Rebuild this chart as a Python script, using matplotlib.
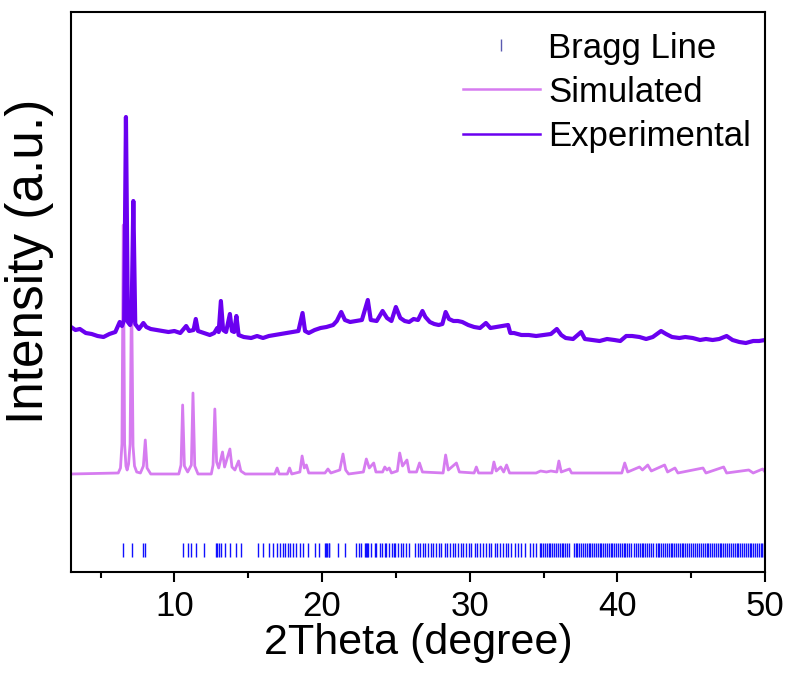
import matplotlib
matplotlib.use('Agg')
import matplotlib.pyplot as plt
from matplotlib.lines import Line2D

plt.rcParams['font.family'] = ['Liberation Sans', 'DejaVu Sans']

# simulated pattern, intensity above its own baseline
sim_2theta = [3.0, 6.2, 6.35, 6.45, 6.54, 6.63, 6.72, 6.8, 6.9, 7.0, 7.1, 7.2, 7.3, 7.45,
              7.7, 7.9, 8.03, 8.15, 8.4,
              10.3, 10.45, 10.56, 10.68, 10.9, 11.15, 11.26, 11.38, 11.6, 12.5, 12.62, 12.74,
              12.86, 13.0, 13.26, 13.4, 13.76, 13.9, 14.1, 14.35, 14.5, 14.8, 16.8, 16.96, 17.1,
              17.65, 17.8, 17.95, 18.5, 18.65, 18.8, 18.94, 19.1, 20.2, 20.4, 20.6, 21.2, 21.42,
              21.6, 21.8, 22.8, 23.0, 23.2, 23.5, 23.65, 24.1, 24.25, 24.4, 24.55, 24.7, 25.1,
              25.26, 25.45, 25.75, 25.9, 26.4, 26.6, 26.8, 28.2, 28.37, 28.55, 29.1, 29.3, 30.3,
              30.45, 30.6, 31.5, 31.64, 31.8, 32.1, 32.3, 32.5, 32.7, 34.5, 34.8, 35.2, 35.5,
              35.9, 36.04, 36.2, 36.76, 36.9, 40.3, 40.5, 40.7, 41.5, 41.7, 42.06, 42.3, 43.2,
              43.4, 43.9, 44.1, 45.8, 46.0, 47.2, 47.4, 48.9, 49.2, 49.84, 50.0]
sim_int = [0, 1, 6, 30, 249, 30, 8, 4, 10, 30, 188, 28, 8, 2,
           1, 8, 34, 6, 0,
           0, 9, 69, 8, 2, 9, 81, 8, 0, 0, 9, 65,
           12, 6, 22, 7, 25, 7, 4, 13, 3, 0, 0, 6, 0,
           0, 6, 0, 2, 18, 6, 9, 1, 1, 5, 1, 4, 20,
           4, 0, 2, 15, 6, 11, 2, 2, 7, 4, 6, 1, 3,
           21, 8, 14, 2, 2, 11, 2, 1, 19, 4, 11, 2, 1,
           7, 1, 1, 12, 3, 7, 2, 9, 1, 1, 3, 2, 3,
           2, 13, 2, 5, 1, 1, 11, 2, 7, 4, 9, 3, 9,
           2, 6, 1, 6, 1, 7, 1, 4, 1, 5, 2]

# experimental pattern
exp_2theta = [3.0, 3.3, 3.6, 4.0, 4.4, 4.8, 5.2, 5.6, 6.0, 6.3, 6.45, 6.6, 6.72, 6.85, 7.0,
              7.1, 7.22, 7.35, 7.6, 7.9, 8.1, 8.4, 8.8, 9.2, 9.6, 10.0, 10.4, 10.8, 11.0,
              11.3, 11.45, 11.6, 12.0, 12.4, 12.7, 12.9, 13.0, 13.15, 13.3, 13.5, 13.76, 13.9,
              14.05, 14.2, 14.35, 14.7, 15.2, 15.6, 16.0, 16.4, 16.8, 17.2, 17.6, 18.0, 18.4,
              18.68, 18.85, 19.1, 19.5, 19.9, 20.3, 20.75, 21.0, 21.3, 21.55, 21.9, 22.3, 22.7,
              23.1, 23.3, 23.7, 24.1, 24.4, 24.7, 25.0, 25.3, 25.6, 25.9, 26.2, 26.5, 26.8,
              27.0, 27.3, 27.6, 27.9, 28.15, 28.37, 28.6, 28.9, 29.2, 29.5, 29.9, 30.3, 30.7,
              31.1, 31.4, 31.8, 32.2, 32.6, 32.75, 33.0, 33.5, 34.0, 34.5, 35.0, 35.5, 35.9,
              36.2, 36.5, 37.0, 37.55, 37.8, 38.3, 38.8, 39.3, 39.8, 40.2, 40.6, 41.0, 41.5,
              41.95, 42.4, 42.96, 43.3, 43.7, 44.2, 44.6, 45.1, 45.6, 46.0, 46.45, 46.9, 47.4,
              47.8, 48.26, 48.7, 49.2, 49.6, 50.0]
exp_int = [18, 15, 16, 12, 11, 9, 8, 11, 13, 23, 19, 25, 228, 23, 20,
           25, 144, 21, 16, 22, 18, 16, 15, 14, 13, 14, 12, 19, 14,
           15, 26, 14, 12, 10, 12, 17, 13, 44, 15, 13, 31, 14,
           13, 29, 10, 8, 7, 9, 7, 9, 10, 11, 12, 13, 14,
           32, 14, 12, 15, 17, 18, 20, 24, 33, 25, 23, 24, 25,
           45, 25, 24, 34, 27, 24, 38, 27, 24, 23, 26, 25, 34,
           28, 23, 21, 20, 21, 33, 26, 24, 24, 23, 20, 18, 17,
           22, 17, 18, 19, 20, 12, 12, 10, 10, 9, 10, 11, 16,
           10, 7, 6, 13, 6, 5, 4, 6, 5, 4, 9, 9, 8,
           6, 8, 14, 11, 8, 7, 8, 7, 5, 6, 5, 6, 9,
           5, 3, 2, 4, 4, 5]

# Bragg reflection positions
bragg_2theta = [6.54, 7.15, 7.85, 8.01, 10.60, 10.94, 11.10, 11.46, 12.02, 12.79, 12.90, 13.02,
                13.13, 13.42, 13.76, 14.14, 14.50, 15.67, 16.01, 16.40, 16.69, 16.92, 17.14,
                17.37, 17.48, 17.70, 17.82, 18.04, 18.27, 18.49, 18.72, 19.06, 19.51, 19.78,
                20.23, 20.30, 20.37, 20.44, 20.50, 21.09, 21.54, 22.33, 22.49, 22.67, 22.89,
                23.00, 23.06, 23.12, 23.34, 23.57, 23.68, 23.91, 24.07, 24.25, 24.36, 24.52,
                24.74, 24.88, 24.97, 25.15, 25.37, 25.49, 25.71, 25.87, 26.32, 26.50, 26.61,
                26.84, 27.00, 27.17, 27.36, 27.52, 27.74, 27.90, 28.08, 28.30, 28.49, 28.64,
                28.87, 29.03, 29.21, 29.39, 29.55, 29.77, 29.93, 30.11, 30.33, 30.52, 30.67,
                30.90, 31.12, 31.28, 31.46, 31.69, 31.87, 32.03, 32.25, 32.48, 32.59, 32.82,
                33.04, 33.27, 33.50, 33.72, 34.06, 34.28, 34.51, 34.73, 34.85, 34.96, 35.10,
                35.22, 35.35, 35.47, 35.60, 35.72, 35.85, 35.97, 36.10, 36.22, 36.35, 36.47,
                36.60, 36.72, 37.05, 37.17, 37.30, 37.42, 37.55, 37.67, 37.80, 37.92, 38.05,
                38.17, 38.30, 38.42, 38.55, 38.67, 38.80, 38.92, 39.05, 39.17, 39.30, 39.42,
                39.55, 39.67, 39.80, 39.92, 40.05, 40.17, 40.30, 40.42, 40.55, 40.67, 40.80,
                40.92, 41.15, 41.27, 41.40, 41.52, 41.65, 41.77, 41.90, 42.02, 42.15, 42.27,
                42.40, 42.60, 42.72, 42.85, 42.97, 43.10, 43.22, 43.35, 43.47, 43.60, 43.72,
                43.85, 43.97, 44.10, 44.22, 44.35, 44.47, 44.55, 44.75, 44.87, 45.00, 45.12,
                45.25, 45.42, 45.55, 45.67, 45.80, 45.92, 46.05, 46.17, 46.30, 46.42, 46.55,
                46.67, 46.80, 46.92, 47.05, 47.17, 47.30, 47.45, 47.57, 47.70, 47.82, 47.95,
                48.07, 48.20, 48.32, 48.45, 48.57, 48.70, 48.82, 48.95, 49.07, 49.20, 49.32,
                49.45, 49.57, 49.70, 49.82, 49.95]

sim_offset = 98
exp_offset = 227
bragg_lo, bragg_hi = 15, 29

sim_color = '#d67cf0'
exp_color = '#6a00f0'
bragg_color = '#1010ff'

fig = plt.figure(figsize=(7.89, 6.79), dpi=100)
ax = fig.add_axes([0.09, 0.1576, 0.8796, 0.8247])

ax.vlines(bragg_2theta, bragg_lo, bragg_hi, color=bragg_color, lw=1.0)
ax.plot(sim_2theta, [v + sim_offset for v in sim_int], color=sim_color, lw=2.0)
ax.plot(exp_2theta, [v + exp_offset for v in exp_int], color=exp_color, lw=3.0)

ax.set_xlim(3, 50)
ax.set_ylim(0, 560)
ax.set_xticks([10, 20, 30, 40, 50])
ax.set_xticks([5, 15, 25, 35, 45], minor=True)
ax.set_yticks([])
ax.tick_params(axis='x', which='major', direction='out', length=7, width=1.5,
               labelsize=25, pad=6)
ax.tick_params(axis='x', which='minor', direction='out', length=4, width=1.5)
for s in ax.spines.values():
    s.set_linewidth(1.5)

ax.set_xlabel('2Theta (degree)', fontsize=31, labelpad=0)
ax.set_ylabel('Intensity (a.u.)', fontsize=37)
ax.yaxis.set_label_coords(-0.025, 0.554)

handles = [
    Line2D([], [], marker='|', linestyle='none', color='#5a5ab0', markersize=9,
           markeredgewidth=1.0),
    Line2D([], [], color=sim_color, lw=1.8),
    Line2D([], [], color=exp_color, lw=1.8),
]
ax.legend(handles, ['Bragg Line', 'Simulated', 'Experimental'], loc='upper right',
          frameon=False, fontsize=25, handlelength=2.2, handletextpad=0.25,
          labelspacing=0.32, borderaxespad=0.0, bbox_to_anchor=(1.0, 0.99))

fig.savefig('out.png', dpi=100)
